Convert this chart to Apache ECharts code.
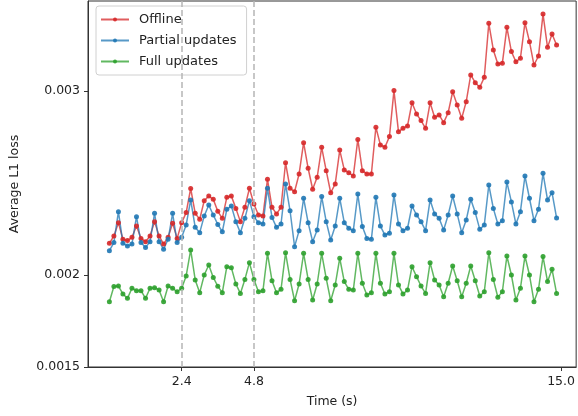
<!DOCTYPE html>
<html>
<head>
<meta charset="utf-8">
<script src="https://cdn.jsdelivr.net/npm/echarts@6/dist/echarts.min.js"></script>
<style>
html,body{margin:0;padding:0;background:#fff;}
#chart{width:578px;height:416px;}
</style>
</head>
<body>
<div id="chart"></div>
<script>
const times = [0, 0.15, 0.3, 0.45, 0.6, 0.75, 0.9, 1.05, 1.2, 1.35, 1.5, 1.65, 1.8, 1.95, 2.1, 2.25, 2.4, 2.55, 2.7, 2.85, 3, 3.15, 3.3, 3.45, 3.6, 3.75, 3.9, 4.05, 4.2, 4.35, 4.5, 4.65, 4.8, 4.95, 5.1, 5.25, 5.4, 5.55, 5.7, 5.85, 6, 6.15, 6.3, 6.45, 6.6, 6.75, 6.9, 7.05, 7.2, 7.35, 7.5, 7.65, 7.8, 7.95, 8.1, 8.25, 8.4, 8.55, 8.7, 8.85, 9, 9.15, 9.3, 9.45, 9.6, 9.75, 9.9, 10.05, 10.2, 10.35, 10.5, 10.65, 10.8, 10.95, 11.1, 11.25, 11.4, 11.55, 11.7, 11.85, 12, 12.15, 12.3, 12.45, 12.6, 12.75, 12.9, 13.05, 13.2, 13.35, 13.5, 13.65, 13.8, 13.95, 14.1, 14.25, 14.4, 14.55, 14.7, 14.85];

const offline = [
0.002172, 0.002212, 0.002284, 0.002194, 0.002187, 0.002205, 0.002266, 0.002199, 0.002181, 0.002212,
0.002290, 0.002212, 0.002168, 0.002205, 0.002281, 0.002199, 0.002284, 0.002339, 0.002470, 0.002335,
0.002303, 0.002404, 0.002429, 0.002411, 0.002346, 0.002308, 0.002422, 0.002429, 0.002362, 0.002290,
0.002368, 0.002471, 0.002386, 0.002326, 0.002321, 0.002520, 0.002368, 0.002332, 0.002368, 0.002610,
0.002471, 0.002453, 0.002549, 0.002719, 0.002580, 0.002466, 0.002531, 0.002694, 0.002567, 0.002447,
0.002495, 0.002679, 0.002571, 0.002556, 0.002538, 0.002737, 0.002567, 0.002549, 0.002549, 0.002803,
0.002707, 0.002694, 0.002752, 0.003002, 0.002779, 0.002797, 0.002810, 0.002936, 0.002875, 0.002839,
0.002797, 0.002936, 0.002857, 0.002870, 0.002828, 0.002882, 0.002996, 0.002924, 0.002852, 0.002942,
0.003087, 0.003045, 0.003020, 0.003074, 0.003368, 0.003223, 0.003147, 0.003151, 0.003346, 0.003214,
0.003159, 0.003178, 0.003371, 0.003268, 0.003141, 0.003190, 0.003418, 0.003237, 0.003310, 0.003250];

const partial = [
0.002132, 0.002176, 0.002344, 0.002172, 0.002158, 0.002168, 0.002317, 0.002176, 0.002150, 0.002181,
0.002335, 0.002181, 0.002140, 0.002194, 0.002335, 0.002176, 0.002205, 0.002272, 0.002408, 0.002259,
0.002230, 0.002321, 0.002380, 0.002326, 0.002275, 0.002235, 0.002357, 0.002375, 0.002290, 0.002230,
0.002308, 0.002404, 0.002317, 0.002284, 0.002277, 0.002471, 0.002313, 0.002259, 0.002277, 0.002495,
0.002349, 0.002154, 0.002241, 0.002417, 0.002284, 0.002181, 0.002245, 0.002426, 0.002290, 0.002190,
0.002266, 0.002417, 0.002284, 0.002254, 0.002241, 0.002440, 0.002263, 0.002199, 0.002194, 0.002422,
0.002266, 0.002217, 0.002227, 0.002435, 0.002277, 0.002241, 0.002254, 0.002375, 0.002326, 0.002290,
0.002241, 0.002408, 0.002332, 0.002308, 0.002245, 0.002326, 0.002429, 0.002332, 0.002230, 0.002299,
0.002411, 0.002339, 0.002248, 0.002272, 0.002489, 0.002362, 0.002277, 0.002295, 0.002505, 0.002397,
0.002277, 0.002344, 0.002538, 0.002417, 0.002295, 0.002357, 0.002553, 0.002408, 0.002447, 0.002310];

const full = [
0.001855, 0.001937, 0.001940, 0.001897, 0.001873, 0.001928, 0.001915, 0.001915, 0.001873, 0.001928,
0.001931, 0.001918, 0.001855, 0.001940, 0.001928, 0.001909, 0.001928, 0.001995, 0.002136, 0.001973,
0.001904, 0.002000, 0.002054, 0.001987, 0.001939, 0.001904, 0.002045, 0.002040, 0.001951, 0.001900,
0.001976, 0.002067, 0.001976, 0.001909, 0.001915, 0.002118, 0.001969, 0.001904, 0.001922, 0.002121,
0.001976, 0.001860, 0.001951, 0.002118, 0.001976, 0.001864, 0.001951, 0.002118, 0.001982, 0.001860,
0.001946, 0.002091, 0.001964, 0.001922, 0.001918, 0.002118, 0.001955, 0.001891, 0.001904, 0.002118,
0.001955, 0.001897, 0.001909, 0.002118, 0.001946, 0.001897, 0.001918, 0.002045, 0.001991, 0.001940,
0.001900, 0.002067, 0.001973, 0.001946, 0.001882, 0.001955, 0.002049, 0.001969, 0.001882, 0.001955,
0.002049, 0.001969, 0.001886, 0.001909, 0.002121, 0.001976, 0.001879, 0.001909, 0.002103, 0.002000,
0.001864, 0.001928, 0.002103, 0.002000, 0.001855, 0.001922, 0.002100, 0.001964, 0.002031, 0.001900];

const seriesNames = ['Offline', 'Partial updates', 'Full updates'];
const seriesColors = ['#d62728', '#1f77b4', '#2ca02c'];
const xTicks = [2.4, 4.8, 15.0];
const xTickLabels = ['2.4', '4.8', '15.0'];
const yTicks = [0.0015, 0.002, 0.003];
const yTickLabels = ['0.0015', '0.002', '0.003'];
const markerTimes = [2.4, 4.8];

const FONT = 'DejaVu Sans';
const chart = echarts.init(document.getElementById('chart'), null, {renderer: 'canvas'});

function pairs(vals) { return vals.map((v, i) => [times[i], v]); }

const allVals = [offline, partial, full];
const series = allVals.map((vals, k) => ({
  name: seriesNames[k],
  type: 'line',
  data: pairs(vals),
  symbol: 'circle',
  symbolSize: 5,
  showSymbol: true,
  color: seriesColors[k],
  itemStyle: {color: seriesColors[k], opacity: 0.9},
  lineStyle: {color: seriesColors[k], width: 1.5, opacity: 0.75},
  emphasis: {disabled: true},
  animation: false
}));
series[0].markLine = {
  silent: true,
  symbol: 'none',
  label: {show: false},
  lineStyle: {color: '#b5b5b5', type: [6, 3], width: 1.5},
  data: markerTimes.map(t => ({xAxis: t})),
  animation: false
};

chart.setOption({
  animation: false,
  backgroundColor: '#fff',
  grid: {left: 88, right: 0, top: 1, bottom: 49, show: true, borderColor: '#333', borderWidth: 1, backgroundColor: 'transparent'},
  legend: {
    orient: 'vertical', left: 96, top: 6,
    padding: [6, 10, 6, 4], itemGap: 6, itemWidth: 28, itemHeight: 5,
    borderColor: '#d0d0d0', borderWidth: 1, borderRadius: 3, backgroundColor: 'rgba(255,255,255,0.8)',
    textStyle: {fontFamily: FONT, fontSize: 13, color: '#222', padding: [0, 0, 0, 5], lineHeight: 15},
    data: seriesNames
  },
  xAxis: {
    type: 'value', min: -0.71, max: 15.5,
    name: 'Time (s)', nameLocation: 'middle', nameGap: 28,
    nameTextStyle: {fontFamily: FONT, fontSize: 12.5, color: '#222'},
    axisLine: {show: true, onZero: false, lineStyle: {color: '#333', width: 1}},
    axisTick: {show: true, length: 4, lineStyle: {color: '#333'}, customValues: xTicks},
    axisLabel: {fontFamily: FONT, fontSize: 12.5, color: '#222', margin: 8, customValues: xTicks,
      formatter: v => { const i = xTicks.findIndex(t => Math.abs(t - v) < 1e-9); return i >= 0 ? xTickLabels[i] : ''; }},
    splitLine: {show: false}
  },
  yAxis: {
    type: 'value', min: 0.0015, max: 0.003489,
    name: 'Average L1 loss', nameLocation: 'middle', nameGap: 67,
    nameTextStyle: {fontFamily: FONT, fontSize: 12.5, color: '#222'},
    axisLine: {show: true, onZero: false, lineStyle: {color: '#333', width: 1}},
    axisTick: {show: true, length: 4, lineStyle: {color: '#333'}, customValues: yTicks},
    axisLabel: {fontFamily: FONT, fontSize: 12.5, color: '#222', margin: 8, customValues: yTicks,
      formatter: v => { const i = yTicks.findIndex(t => Math.abs(t - v) < 1e-12); return i >= 0 ? yTickLabels[i] : ''; }},
    splitLine: {show: false}
  },
  series: series
});
</script>
</body>
</html>
